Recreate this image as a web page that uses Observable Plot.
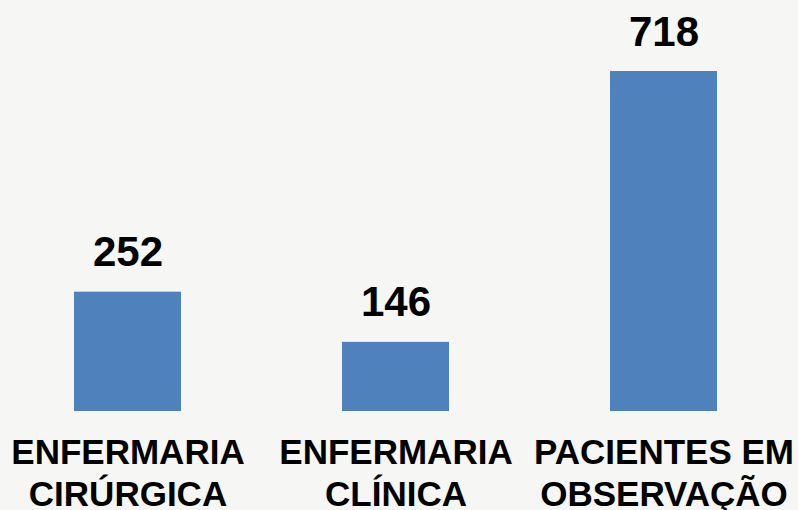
<!DOCTYPE html>
<html>
<head>
<meta charset="utf-8">
<script src="https://cdn.jsdelivr.net/npm/d3@7"></script>
<script src="https://cdn.jsdelivr.net/npm/@observablehq/plot@0.6"></script>
<style>
  html, body { margin: 0; padding: 0; background: #f6f6f4; }
  #chart { width: 798px; height: 510px; overflow: hidden; }
</style>
</head>
<body>
<div id="chart"></div>
<script>
const categories = ["ENFERMARIA\nCIRÚRGICA", "ENFERMARIA\nCLÍNICA", "PACIENTES EM\nOBSERVAÇÃO"];
const values = [252, 146, 718];

const data = categories.map((c, i) => ({category: c, value: values[i]}));

const chart = Plot.plot({
  width: 798,
  height: 510,
  marginLeft: 20,
  marginRight: 27,
  marginTop: 71,
  marginBottom: 99,
  style: {background: "#f6f6f4", fontFamily: "'Liberation Sans', Arial, sans-serif", overflow: "visible"},
  x: {domain: categories, paddingInner: 0.6, paddingOuter: 0.2, axis: null},
  y: {domain: [0, 718], axis: null},
  marks: [
    Plot.barY(data, {x: "category", y: "value", fill: "#4f81bd"}),
    Plot.text(data, {x: "category", y: "value", text: d => String(d.value), dy: -26, lineAnchor: "bottom",
      fontSize: 42, fontWeight: "bold", fill: "#000"}),
    Plot.axisX({domain: categories, tickSize: 0, tickPadding: 23, fontSize: 35, fontWeight: "bold",
      lineHeight: 1.19, fill: "#000", label: null})
  ]
});
document.getElementById("chart").appendChild(chart);
</script>
</body>
</html>
